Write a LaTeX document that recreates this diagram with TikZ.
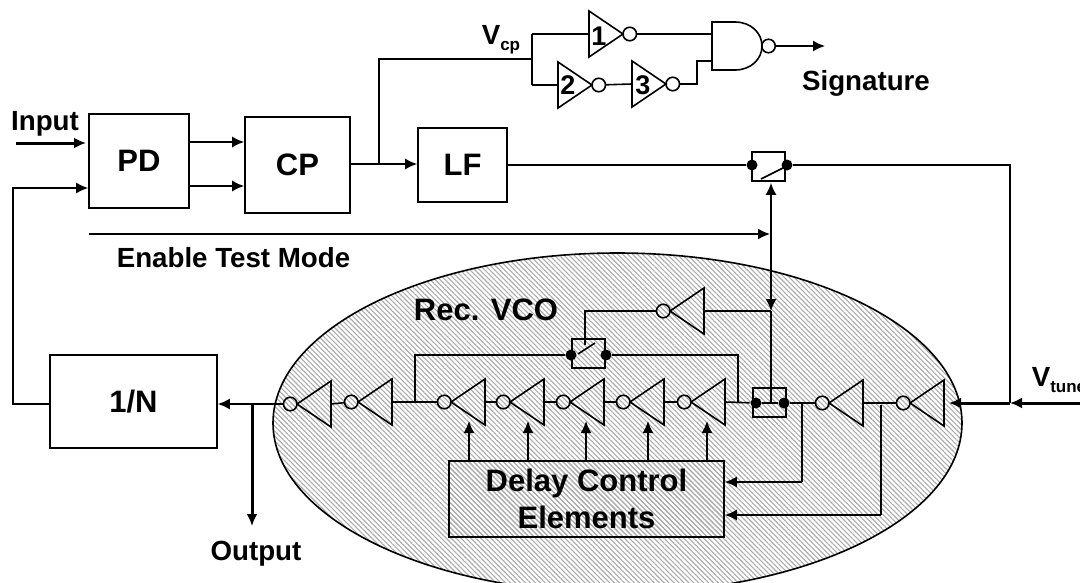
\documentclass[tikz,border=0pt]{standalone}
\usepackage{fontspec}
\setmainfont{Liberation Sans}
\usetikzlibrary{arrows.meta,positioning,calc,shapes.geometric,patterns.meta}
\definecolor{hatchgray}{HTML}{ABABAB}
\newcommand{\lowtext}[1]{{\fontsize{17}{17}\selectfont\raisebox{-6pt}{#1}}}

\begin{document}
\begin{tikzpicture}[
    x=1pt, y=-1pt, line width=1.6pt,
    box/.style={draw, minimum height=#1, align=center, inner sep=0pt},
    hatch/.style={pattern={Lines[angle=135, distance=3.5pt, line width=1.1pt]}, pattern color=hatchgray},
    invleft/.style={draw, isosceles triangle, isosceles triangle stretches, shape border rotate=180, minimum width=46pt, minimum height=34pt, inner sep=0pt, outer sep=0pt, anchor=apex},
    invright/.style={invleft, shape border rotate=0},
    bubble/.style={draw, circle, minimum size=13.5pt, inner sep=0pt, outer sep=0pt},
    dotnode/.style={fill, circle, minimum size=11pt, inner sep=0pt},
    switchbox/.style={draw, minimum width=33pt, minimum height=29pt, inner sep=0pt},
    lab/.style={font=\fontsize{27.7}{30}\selectfont\bfseries, inner sep=0pt},
    biglab/.style={font=\fontsize{31}{36}\selectfont\bfseries, inner sep=0pt},
    numlab/.style={font=\fontsize{27}{27}\selectfont\bfseries, inner sep=0pt},
    arrow/.style={-{Latex[length=12pt, width=11pt]}},
    thickarrow/.style={arrow, line width=3pt}
  ]
    \useasboundingbox (0,0) rectangle (1080,582);

    \node[draw, ellipse, hatch, minimum width=689pt, minimum height=340pt, inner sep=0pt] (vco) at (617.5,423) {};

    \node[box=94pt, minimum width=100pt, biglab] (pd) at (139,161) {PD};
    \node[box=96pt, minimum width=105pt, biglab] (cp) at (297.5,165) {CP};
    \node[box=74pt, minimum width=89pt, biglab] (lf) at (462.5,165) {LF};
    \node[box=93pt, minimum width=167pt, biglab] (div) at (133.5,401.5) {1/N};
    \node[box=76pt, minimum width=275pt, hatch, biglab] (delay) at (586.5,499) {Delay Control\\[1pt]Elements};

    \node[lab] (input) at (45,124) {Input};
    \node[lab] (enable) at (233.5,258) {Enable Test Mode};
    \node[lab] (signature) at (866,83) {Signature};
    \node[lab] (output) at (256,554) {Output};
    \node[lab, anchor=west] (vcp) at (481,40) {V\lowtext{cp}};
    \node[lab, anchor=west] (vtune) at (1031,380) {V\lowtext{tune}};
    \node[biglab] (recvco) at (486,310) {Rec. VCO};

    \foreach \name/\x/\y in {one/623/34, two/592/85, three/666/84} {
      \node[invright] (\name) at (\x,\y) {};
      \node[bubble, anchor=west] (\name b) at (\name.apex) {};
    }
    \node[numlab] (onetext) at ($(one.lower side)+(10,2)$) {1};
    \node[numlab] (twotext) at ($(two.lower side)+(10,0)$) {2};
    \node[numlab] (threetext) at ($(three.lower side)+(11,1)$) {3};

    \foreach \name/\x/\y in {invA/297/404, invB/358/402, invC/451/402, invD/510/402, invE/570/402, invF/630/402, invG/691/402, invH/829/403, invI/910/403, invT/670/311} {
      \node[invleft] (\name) at (\x,\y) {};
      \node[bubble, anchor=east] (\name b) at (\name.apex) {};
    }

    \draw (712,22) -- (735,22) .. controls (751,22) and (762,33) .. (762,46) .. controls (762,59) and (751,70) .. (735,70) -- (712,70) -- cycle;
    \node[bubble] (nandb) at (768.5,46) {};
    \coordinate (nandup) at (712,34);
    \coordinate (nandlow) at (712,61);

    \node[switchbox] (swmain) at (768.5,166.5) {};
    \node[dotnode] (swmainl) at (752,165) {};
    \node[dotnode] (swmainr) at (787,165) {};
    \node[switchbox] (swrec) at (588.5,353.5) {};
    \node[dotnode] (swrecl) at (571,355) {};
    \node[dotnode] (swrecr) at (606,355) {};
    \node[switchbox] (swlow) at (769.5,402.5) {};
    \node[dotnode] (swlowl) at (756,403) {};
    \node[dotnode] (swlowr) at (784,403) {};

    \coordinate (tapcp) at (379,164);
    \coordinate (tapvcp) at (532,59);
    \coordinate (tuneend) at (1080,403);
    \coordinate (tunejoin) at (1010,403);
    \coordinate (ctrl) at (771,311);

    \draw[thickarrow] (16,143) -- (86,143);
    \draw[arrow] (div.west |- 0,404) -- (13,404) -- (13,188) -- (pd.west |- 0,188);
    \draw[arrow] (190,142) -- (cp.west |- 0,142);
    \draw[arrow] (pd.east |- 0,186) -- (cp.west |- 0,186);
    \draw[arrow] (cp.east |- tapcp) -- (lf.west |- tapcp);
    \draw (tapcp) -- (tapcp |- tapvcp) -- (tapvcp);
    \draw (tapvcp |- one) -- (one.lower side);
    \draw (tapvcp |- two) -- (two.lower side);
    \draw (tapvcp |- one) -- (tapvcp |- two);
    \draw (twob) -- (three.lower side);
    \draw (oneb.east) -- (nandup);
    \draw (threeb.east) -| (697,61) -- (nandlow);
    \draw[arrow] (nandb) -- (825,46);

    \draw (lf.east |- swmainl) -- (swmainl);
    \draw (swmainr) -- (tunejoin |- swmainr) -- (tunejoin);
    \draw (761,179) -- (785,167);
    \draw[arrow] (89,234) -- (770,234);
    \draw[{Latex[length=12pt, width=11pt]}-{Latex[length=12pt, width=11pt]}] (swmain.south -| ctrl) ++(0,1) -- (ctrl);
    \draw (ctrl) -- (771,403);
    \draw (ctrl) -- (invT.lower side);
    \draw (invTb.west) -- (585,311) -- (585,345);
    \draw (578,354) -- (595,343);
    \draw (swrecl) -- (415,355) -- (415,402);
    \draw (swrecr) -- (738,355) -- (738,403);

    \draw[thickarrow] (tuneend) -- (tunejoin);
    \draw[thickarrow] (tunejoin) -- ($(invI.lower side)+(5,0)$);

    \draw[arrow] (invAb.west) -- (div.east |- invAb);
    \draw[thickarrow] (252,404) -- (252,526);
    \draw (invBb) -- (invA.lower side);
    \draw (invCb) -- (invB.lower side);
    \draw (invDb) -- (invC.lower side);
    \draw (invEb) -- (invD.lower side);
    \draw (invFb) -- (invE.lower side);
    \draw (invGb) -- (invF.lower side);
    \draw (invG.lower side) -- (swlowl);
    \draw (swlowl) -- (swlowr);
    \draw (swlowr) -- (invHb);
    \draw (invH.lower side) -- (invIb);
    \draw (802,403) -- (802,482) edge[arrow] (delay.east |- 0,482);
    \draw (881,405) -- (881,515) edge[arrow] (delay.east |- 0,515);

    \foreach \x in {469,528,586,648,707} {
      \draw[arrow] (delay.north -| \x,0) -- (\x,421);
    }
  \end{tikzpicture}
\end{document}
